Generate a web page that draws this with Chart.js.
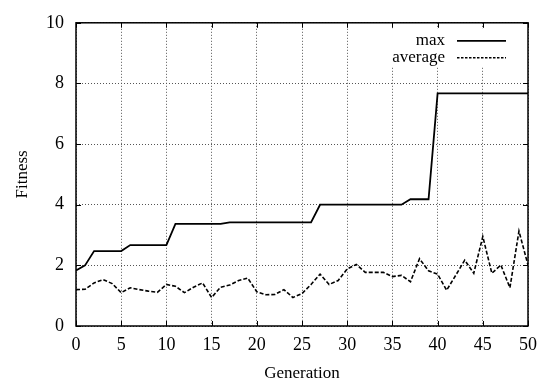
<!DOCTYPE html>
<html>
<head>
<meta charset="utf-8">
<script src="https://cdn.jsdelivr.net/npm/chart.js@4"></script>
<style>
  html, body { margin: 0; padding: 0; background: #fff; }
  #wrap { width: 547px; height: 385px; }
</style>
</head>
<body>
<div id="wrap"><canvas id="fitness"></canvas></div>
<script>
// generation numbers on the x axis
var generations = [0,1,2,3,4,5,6,7,8,9,10,11,12,13,14,15,16,17,18,19,20,
                   21,22,23,24,25,26,27,28,29,30,31,32,33,34,35,36,37,38,39,40,
                   41,42,43,44,45,46,47,48,49,50];

// best fitness per generation
var maxFitness = [1.83, 2.0, 2.47, 2.47, 2.47, 2.47, 2.67, 2.67, 2.67, 2.67,
                  2.67, 3.37, 3.37, 3.37, 3.37, 3.37, 3.37, 3.42, 3.42, 3.42,
                  3.42, 3.42, 3.42, 3.42, 3.42, 3.42, 3.42, 4.0, 4.0, 4.0,
                  4.0, 4.0, 4.0, 4.0, 4.0, 4.0, 4.0, 4.18, 4.18, 4.18,
                  7.67, 7.67, 7.67, 7.67, 7.67, 7.67, 7.67, 7.67, 7.67, 7.67, 7.67];

// average fitness per generation
var avgFitness = [1.2, 1.21, 1.42, 1.53, 1.4, 1.1, 1.26, 1.2, 1.15, 1.11,
                  1.37, 1.31, 1.1, 1.28, 1.42, 0.94, 1.28, 1.35, 1.5, 1.58,
                  1.13, 1.03, 1.04, 1.2, 0.94, 1.07, 1.37, 1.71, 1.37, 1.5,
                  1.88, 2.03, 1.77, 1.77, 1.77, 1.63, 1.67, 1.46, 2.22, 1.82,
                  1.71, 1.18, 1.67, 2.17, 1.74, 2.95, 1.74, 2.01, 1.26, 3.13, 2.01];

const FONT = "'Liberation Serif', 'DejaVu Serif', serif";

function toPoints(ys) {
    return generations.map(function(g, i) { return {x: g, y: ys[i]}; });
}

// gnuplot style frame: box border, inward ticks, key at top right
const framePlugin = {
    id: 'frame',
    afterDraw: function(chart) {
        var ctx = chart.ctx;
        var a = chart.chartArea;
        var xs = chart.scales.x, ys = chart.scales.y;
        ctx.save();

        // key background
        ctx.fillStyle = '#fff';
        ctx.fillRect(a.right - 145, a.top + 6, 140, 38);

        // key entries
        ctx.font = '17px ' + FONT;
        ctx.textAlign = 'right';
        ctx.textBaseline = 'middle';
        chart.data.datasets.forEach(function(ds, i) {
            var y = a.top + 18 + i * 17;
            ctx.fillStyle = '#000';
            ctx.fillText(ds.label, a.right - 83, y);
            ctx.strokeStyle = '#000';
            ctx.lineWidth = ds.borderWidth;
            ctx.setLineDash(i ? [2.5, 1.5] : []);
            ctx.beginPath();
            ctx.moveTo(a.right - 71, y);
            ctx.lineTo(a.right - 22, y);
            ctx.stroke();
        });
        ctx.setLineDash([]);

        // inward ticks on all four sides
        ctx.strokeStyle = '#000';
        ctx.lineWidth = 1;
        ctx.beginPath();
        xs.ticks.forEach(function(t) {
            var px = Math.round(xs.getPixelForValue(t.value)) + 0.5;
            ctx.moveTo(px, a.bottom); ctx.lineTo(px, a.bottom - 5);
            ctx.moveTo(px, a.top); ctx.lineTo(px, a.top + 5);
        });
        ys.ticks.forEach(function(t) {
            var py = Math.round(ys.getPixelForValue(t.value)) + 0.5;
            ctx.moveTo(a.left, py); ctx.lineTo(a.left + 5, py);
            ctx.moveTo(a.right, py); ctx.lineTo(a.right - 5, py);
        });
        ctx.stroke();

        // border box
        ctx.lineWidth = 1.5;
        ctx.strokeRect(a.left, a.top, a.right - a.left, a.bottom - a.top);
        ctx.restore();
    }
};

const data = {
    datasets: [{
        label: 'max',
        data: toPoints(maxFitness),
        borderColor: '#000',
        borderWidth: 1.8,
        pointRadius: 0,
        tension: 0
    }, {
        label: 'average',
        data: toPoints(avgFitness),
        borderColor: '#000',
        borderWidth: 1.6,
        borderDash: [4, 2],
        pointRadius: 0,
        tension: 0
    }]
};

const config = {
    type: 'line',
    data: data,
    plugins: [framePlugin],
    options: {
        responsive: true,
        maintainAspectRatio: false,
        animation: false,
        layout: { padding: { left: 0, top: 14, right: 19, bottom: 0 } },
        plugins: {
            legend: { display: false },
            tooltip: { enabled: false }
        },
        scales: {
            x: {
                type: 'linear',
                min: 0,
                max: 50,
                afterFit: function(scale) { scale.height = 59; },
                ticks: { stepSize: 5, color: '#000', padding: 8, font: { family: FONT, size: 18 } },
                grid: { color: '#555', lineWidth: 1, drawTicks: false },
                border: { display: false, dash: [1, 2] },
                title: { display: true, text: 'Generation', color: '#000', padding: { top: 0, bottom: 1 },
                         font: { family: FONT, size: 17 } }
            },
            y: {
                min: 0,
                max: 10,
                afterFit: function(scale) { scale.width = 76; },
                ticks: { stepSize: 2, color: '#000', padding: 12, font: { family: FONT, size: 18 } },
                grid: { color: '#555', lineWidth: 1, drawTicks: false },
                border: { display: false, dash: [1, 2] },
                title: { display: true, text: 'Fitness', color: '#000', padding: { top: 12, bottom: 0 },
                         font: { family: FONT, size: 17 } }
            }
        }
    }
};

var myChart = new Chart(document.getElementById('fitness'), config);
</script>
</body>
</html>
